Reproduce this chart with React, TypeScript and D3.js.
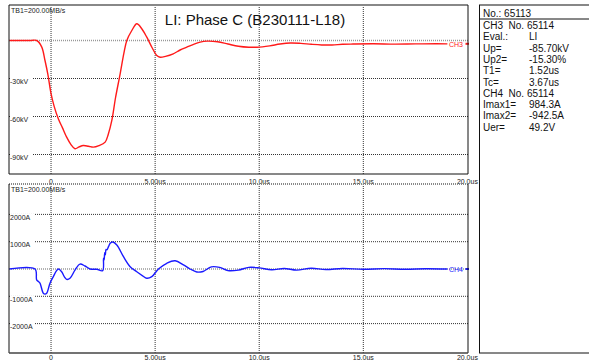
import React from "react";
import * as d3 from "d3";

// Time in microseconds
const voltTime = [-2.0, -1.0, -0.69, -0.45, -0.29, -0.15, 0, 0.15, 0.35, 0.55, 0.75, 0.95, 1.15, 1.35, 1.55, 1.8, 2.03, 2.3, 2.6, 2.75, 2.92, 3.1, 3.32, 3.5, 3.64, 3.88, 4.12, 4.35, 4.6, 4.85, 5.08, 5.24, 5.5, 5.87, 6.2, 6.52, 6.85, 7.16, 7.5, 8.0, 8.5, 9.0, 9.5, 9.9, 10.5, 11.0, 11.5, 12.0, 12.5, 13.0, 13.5, 14.0, 14.5, 15.5, 16.5, 17.5, 18.5, 19.04];
const voltKV = [0, 0, 0, -5, -15.8, -27, -42, -52, -61.8, -69, -76.3, -82, -85.5, -84, -82.9, -83.5, -84.2, -83, -80.2, -74, -63.1, -45, -26.3, -10, 0, 7.9, 13.2, 9.5, 2.6, -5.5, -11.8, -13.2, -12.5, -10.5, -7.5, -5.3, -3, -1.3, -0.5, -1.0, -2.8, -4.5, -5.3, -5.3, -4.2, -2.8, -2.0, -2.3, -3.0, -3.5, -3.5, -3.0, -2.8, -2.6, -2.9, -2.7, -2.6, -2.7];

const currTime = [-2.0, -0.77, -0.69, -0.6, -0.53, -0.37, -0.29, -0.21, -0.05, 0.11, 0.25, 0.35, 0.51, 0.65, 0.75, 0.91, 1.15, 1.39, 1.63, 1.88, 2.2, 2.48, 2.52, 2.55, 2.58, 2.61, 2.64, 2.68, 2.76, 2.84, 2.96, 3.16, 3.48, 3.8, 4.12, 4.4, 4.6, 4.84, 5.16, 5.56, 5.96, 6.36, 6.68, 7.0, 7.3, 7.7, 8.1, 8.5, 9.0, 9.5, 10.0, 10.6, 11.2, 11.8, 12.5, 13.2, 14.0, 15.0, 16.0, 17.0, 18.0, 19.04];
const currA = [0, 0, -400, -460, -520, -890, -920, -890, -520, -280, -80, 0, -100, -300, -380, -340, -40, 180, 110, 0, -10, -60, 400, 330, 600, 520, 720, 700, 820, 940, 990, 880, 450, 85, -100, -250, -340, -280, 0, 210, 300, 150, 0, -110, -90, 80, 60, -60, -40, 60, 40, -30, 20, -40, 30, -20, 20, -10, 15, -10, 10, 0];

const voltTicks = [0, -30, -60, -90];
const voltTickLabels = ["", "-30kV", "-60kV", "-90kV"];
const currTicks = [2000, 1000, 0, -1000, -2000];
const currTickLabels = ["2000A", "1000A", "", "-1000A", "-2000A"];
const timeTicks = [0, 5, 10, 15, 20];
const timeTickLabels = ["0", "5.00us", "10.0us", "15.0us", "20.0us"];

const infoLabels = ["CH3  No. 65114", "Eval.:", "Up=", "Up2=", "T1=", "Tc=", "CH4  No. 65114", "Imax1=", "Imax2=", "Uer="];
const infoValues = ["", "LI", "-85.70kV", "-15.30%", "1.52us", "3.67us", "", "984.3A", "-942.5A", "49.2V"];

const FONT = "'Liberation Sans', Arial, sans-serif";

export default function App() {
  const x = d3.scaleLinear().domain([-2, 20]).range([9.4, 467.4]);
  const yV = d3.scaleLinear().domain([0, -30]).range([40.5, 78.5]);
  const yI = d3.scaleLinear().domain([0, 1000]).range([269, 241.7]);

  const left = 9, right = 468;
  const top1 = 5, bot1 = 174, top2 = 184, bot2 = 353;

  const lineV = d3.line<number>().x((_, i) => x(voltTime[i])).y((d) => yV(d)).curve(d3.curveCatmullRom.alpha(0.5));
  const lineI = d3.line<number>().x((_, i) => x(currTime[i])).y((d) => yI(d)).curve(d3.curveCatmullRom.alpha(0.5));

  const grid = (y0: number, y1: number) =>
    timeTicks.filter((t) => t > -2 && t < 20).map((t) => (
      <line key={"vg" + t + y0} x1={x(t)} x2={x(t)} y1={y0} y2={y1} stroke="#333" strokeWidth={1} strokeDasharray="1,1" />
    ));

  return (
    <svg width={589} height={363} style={{ position: "absolute", left: 0, top: 0, background: "#fff" }} fontFamily={FONT}>
      <rect x={0} y={0} width={589} height={363} fill="#fff" />
      {/* top panel */}
      {grid(top1, bot1)}
      {voltTicks.map((v, i) => (
        <line key={"hv" + v} x1={left} x2={right} y1={yV(v)} y2={yV(v)} stroke={v === 0 ? "#999" : "#333"} strokeWidth={v === 0 ? 1.5 : 1} strokeDasharray="1,1" />
      ))}
      {voltTicks.map((v, i) =>
        voltTickLabels[i] ? (
          <g key={"lv" + v}>
            <rect x={left + 1} y={yV(v) - 1} width={22} height={8} fill="#fff" />
            <text x={left + 1} y={yV(v) + 5.5} fontSize={7} fill="#222">{voltTickLabels[i]}</text>
          </g>
        ) : null
      )}
      <text x={11} y={12.5} fontSize={7} fill="#222">TB1=200.00MB/s</text>
      <text x={255} y={25} fontSize={15} textAnchor="middle" fill="#111">LI: Phase C (B230111-L18)</text>
      <path d={lineV(voltKV) || ""} fill="none" stroke="#ff1a1a" strokeWidth={1.4} />
      <text x={449} y={47} fontSize={7} fill="#ff1a1a">CH3</text>
      <line x1={465.5} x2={469} y1={yV(-2.6)} y2={yV(-2.6)} stroke="#ff1a1a" strokeWidth={2} />
      <line x1={left} x2={right} y1={top1} y2={top1} stroke="#888" strokeWidth={2} />
      <line x1={left} x2={left} y1={top1} y2={bot1} stroke="#111" strokeWidth={1} />
      <line x1={right} x2={right} y1={top1} y2={bot1} stroke="#111" strokeWidth={1} />
      <line x1={left} x2={right} y1={bot1} y2={bot1} stroke="#111" strokeWidth={1} />
      {timeTicks.map((t, i) => (
        <text key={"tx1" + t} x={x(t)} y={183.5} fontSize={7} textAnchor="middle" fill="#222">{timeTickLabels[i]}</text>
      ))}

      {/* bottom panel */}
      {grid(top2, bot2)}
      {currTicks.map((v) => (
        <line key={"hi" + v} x1={left} x2={right} y1={yI(v)} y2={yI(v)} stroke={v === 0 ? "#999" : "#333"} strokeWidth={v === 0 ? 1.5 : 1} strokeDasharray="1,1" />
      ))}
      {currTicks.map((v, i) =>
        currTickLabels[i] ? (
          <g key={"li" + v}>
            <rect x={left + 1} y={yI(v) - 1} width={24} height={8} fill="#fff" />
            <text x={left + 1} y={yI(v) + 5.5} fontSize={7} fill="#222">{currTickLabels[i]}</text>
          </g>
        ) : null
      )}
      <text x={11} y={191.5} fontSize={7} fill="#222">TB1=200.00MB/s</text>
      <path d={lineI(currA) || ""} fill="none" stroke="#1a1aff" strokeWidth={1.4} />
      <text x={449} y={272} fontSize={7} fill="#1a1aff">CH4</text>
      <line x1={465.5} x2={469} y1={yI(0)} y2={yI(0)} stroke="#1a1aff" strokeWidth={2} />
      <line x1={left} x2={right} y1={top2} y2={top2} stroke="#888" strokeWidth={2} strokeDasharray="1,1" />
      <line x1={left} x2={left} y1={top2} y2={bot2} stroke="#111" strokeWidth={1} />
      <line x1={right} x2={right} y1={top2} y2={bot2} stroke="#111" strokeWidth={1} />
      <line x1={left} x2={right} y1={bot2} y2={bot2} stroke="#444" strokeWidth={1.5} />
      {timeTicks.map((t, i) => (
        <text key={"tx2" + t} x={x(t)} y={360} fontSize={7} textAnchor="middle" fill="#222">{timeTickLabels[i]}</text>
      ))}

      {/* info box */}
      <rect x={479.5} y={5} width={120} height={348} fill="none" stroke="#111" strokeWidth={1} />
      <line x1={479.5} x2={589} y1={19} y2={19} stroke="#111" strokeWidth={1} />
      <text x={483} y={16.5} fontSize={10} fill="#111">No.: 65113</text>
      {infoLabels.map((l, i) => (
        <g key={"inf" + i}>
          <text x={483} y={29 + i * 11.3} fontSize={10} fill="#111" style={{ whiteSpace: "pre" }}>{l}</text>
          {infoValues[i] ? <text x={529} y={29 + i * 11.3} fontSize={10} fill="#111">{infoValues[i]}</text> : null}
        </g>
      ))}
    </svg>
  );
}
